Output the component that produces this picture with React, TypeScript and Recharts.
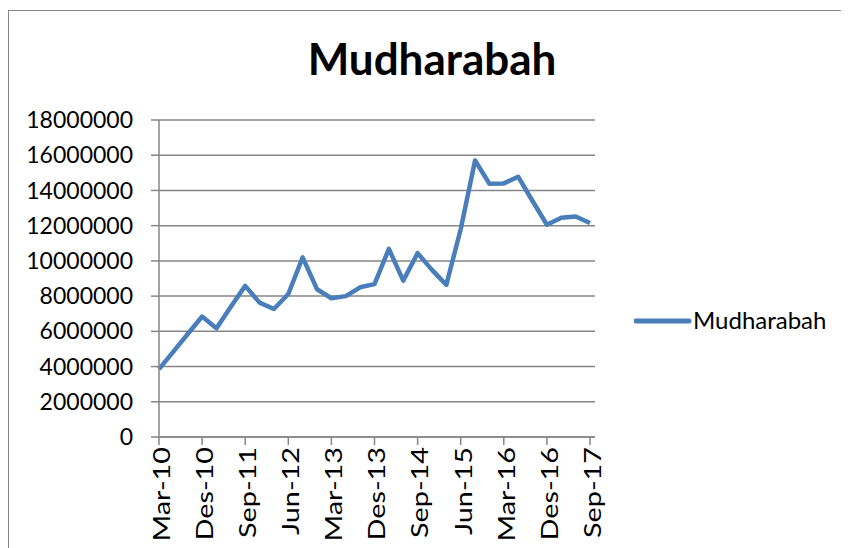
import React from "react";
import { LineChart, Line, XAxis, YAxis, CartesianGrid } from "recharts";

// quarterly periods, Indonesian month abbreviations as in the source sheet
const periods = [
  "Mar-10", "Jun-10", "Sep-10", "Des-10",
  "Mar-11", "Jun-11", "Sep-11", "Des-11",
  "Mar-12", "Jun-12", "Sep-12", "Des-12",
  "Mar-13", "Jun-13", "Sep-13", "Des-13",
  "Mar-14", "Jun-14", "Sep-14", "Des-14",
  "Mar-15", "Jun-15", "Sep-15", "Des-15",
  "Mar-16", "Jun-16", "Sep-16", "Des-16",
  "Mar-17", "Jun-17", "Sep-17",
];

const mudharabah = [
  3850000, 4850000, 5850000, 6840000,
  6170000, 7400000, 8580000, 7630000,
  7270000, 8120000, 10200000, 8390000,
  7880000, 8000000, 8500000, 8680000,
  10680000, 8880000, 10440000, 9490000,
  8640000, 11800000, 15700000, 14380000,
  14400000, 14780000, 13400000, 12050000,
  12450000, 12520000, 12150000,
];

const yTicks = [0, 2000000, 4000000, 6000000, 8000000, 10000000, 12000000, 14000000, 16000000, 18000000];

const data = periods.map((p, i) => ({ period: p, Mudharabah: mudharabah[i] }));

const BLUE = "#4a7ebb";
const AXIS = "#868686";
const FONT = "Lato, 'Open Sans', sans-serif";

function PeriodTick({ x, y, payload }: any) {
  return (
    <g transform={`translate(${x},${y})`}>
      <text
        transform="rotate(-90) scale(1.2,1)"
        textAnchor="end"
        dy="0.45em"
        fontSize={24}
        fontFamily={FONT}
        fill="#000"
      >
        {payload.value}
      </text>
    </g>
  );
}

export default function App() {
  return (
    <div style={{ position: "relative", width: 841, height: 540, fontFamily: FONT }}>
      <div
        style={{
          position: "absolute", left: 0, top: 2, right: 0, bottom: 0,
          borderLeft: `1.5px solid ${AXIS}`, borderTop: `1.5px solid ${AXIS}`,
        }}
      />
      <div
        style={{
          position: "absolute", left: 0, width: 848, top: 25, textAlign: "center",
          fontSize: 44, fontWeight: 700, lineHeight: "50px", color: "#000",
        }}
      >
        Mudharabah
      </div>
      <svg
        width={210}
        height={40}
        style={{ position: "absolute", left: 626, top: 293 }}
      >
        <line x1={2} y1={20} x2={55} y2={20} stroke={BLUE} strokeWidth={5} strokeLinecap="round" />
        <text x={59} y={28} fontSize={24} fontFamily={FONT} fill="#000">Mudharabah</text>
      </svg>
      <LineChart
        width={841}
        height={540}
        data={data}
        margin={{ top: 112, right: 254, left: 0, bottom: 0 }}
      >
        <CartesianGrid vertical={false} stroke={AXIS} strokeWidth={1.5} />
        <XAxis
          dataKey="period"
          interval={2}
          height={111}
          padding={{ left: 0, right: 5 }}
          stroke={AXIS}
          strokeWidth={1.5}
          tickSize={8}
          tickMargin={2}
          tick={<PeriodTick />}
        />
        <YAxis
          width={151}
          domain={[0, 18000000]}
          ticks={yTicks}
          interval={0}
          stroke={AXIS}
          strokeWidth={1.5}
          tickSize={8}
          tickMargin={18}
          tick={{ fill: "#000", fontSize: 23, fontFamily: FONT }}
        />
        <Line
          type="linear"
          dataKey="Mudharabah"
          stroke={BLUE}
          strokeWidth={4.5}
          strokeLinejoin="round"
          dot={false}
          isAnimationActive={false}
        />
      </LineChart>
    </div>
  );
}
